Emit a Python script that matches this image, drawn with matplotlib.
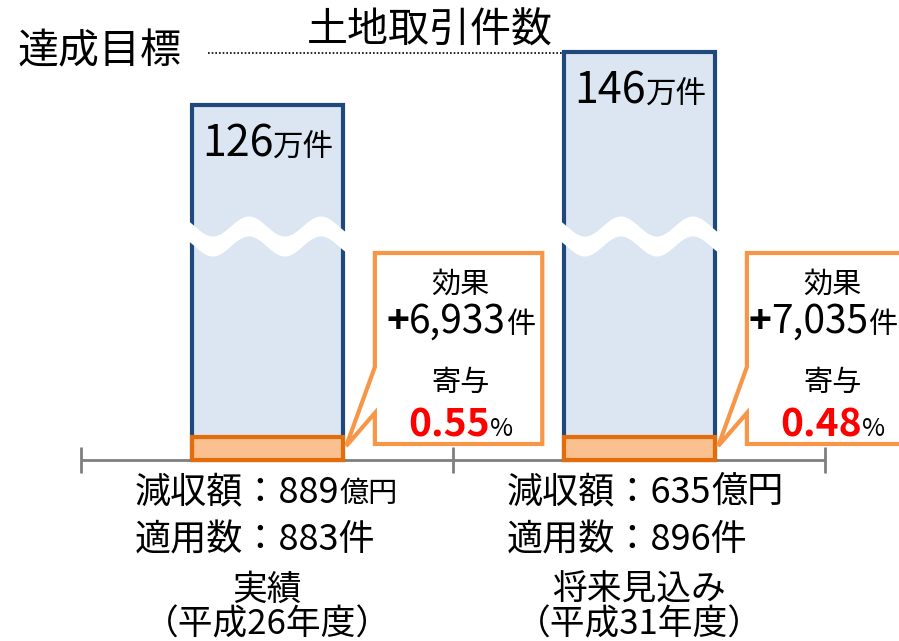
import matplotlib
matplotlib.use("Agg")
import matplotlib.pyplot as plt
import numpy as np
from matplotlib.offsetbox import TextArea, HPacker, AnnotationBbox
from matplotlib.patches import Polygon

plt.rcParams['font.family'] = ['Noto Sans CJK JP', 'DejaVu Sans']

# ---------------- data ----------------
title = "土地取引件数"
target_label = "達成目標"
cat_line1 = ["実績", "将来見込み"]
cat_line2 = ["（平成26年度）", "（平成31年度）"]
transactions = [126, 146]          # 万件
effects = [6933, 7035]             # 件
contrib = [0.55, 0.48]             # %
revenue_loss = [889, 635]          # 億円
applied = [883, 896]               # 件

# ---------------- layout helpers ----------------
W_PX, H_PX = 899, 641
PX0, PXS = 267.0, 372.0           # x: category 0 at px 267, 372 px per category
YTOP, YBOT = 165.6, -76.3


def X(px):
    return (px - PX0) / PXS


def Y(py):
    return YTOP - py * (YTOP - YBOT) / H_PX


BASE = Y(460)
EFFECT_H = 8.5
BAR_W = 151 / PXS

BLUE_FILL = "#DCE6F2"
BLUE_EDGE = "#1F497D"
OR_FILL = "#FAC090"
OR_EDGE = "#E46C0A"
CALL_EDGE = "#F79646"
GREY = "#7F7F7F"

fig = plt.figure(figsize=(W_PX / 100, H_PX / 100), dpi=100)
ax = fig.add_axes([0, 0, 1, 1])
ax.set_xlim(X(0), X(W_PX))
ax.set_ylim(YBOT, YTOP)
ax.axis("off")

xs_cat = np.arange(len(transactions))


def rich(x, y, parts, align=(0.5, 0.5), z=10, sep=0):
    areas = [TextArea(s, textprops=dict(fontsize=fs, color=c, fontweight=w))
             for s, fs, c, w in parts]
    pack = HPacker(children=areas, align="baseline", pad=0, sep=sep)
    ab = AnnotationBbox(pack, (x, y), xycoords="data", box_alignment=align,
                        frameon=False, pad=0, annotation_clip=False)
    ab.set_zorder(z)
    ax.add_artist(ab)
    return ab


# bars
vals = np.array(transactions, dtype=float)
ax.bar(xs_cat, vals - BASE, bottom=BASE, width=BAR_W, color=BLUE_FILL,
       edgecolor=BLUE_EDGE, linewidth=3, zorder=2)
ax.bar(xs_cat, [EFFECT_H] * len(vals), bottom=BASE, width=BAR_W, color=OR_FILL,
       edgecolor=OR_EDGE, linewidth=3, zorder=2.5)

# wavy break
for x in xs_cat:
    left, right = x - BAR_W / 2, x + BAR_W / 2
    xw = np.linspace(left - 0.02, right + 0.02, 400)
    xpx = PX0 + PXS * xw
    lpx = PX0 + PXS * left
    cpy = 236 + 10 * np.cos(2 * np.pi * (xpx - (lpx + 21)) / 72)
    ax.fill_between(xw, Y(cpy + 10), Y(cpy - 10), color="white", lw=0, zorder=3)

# axis line and ticks
ax.hlines(BASE, -0.5, len(vals) - 0.5, color=GREY, lw=2, zorder=1)
ax.vlines(np.arange(len(vals) + 1) - 0.5, BASE - 4.8, BASE + 4.8, color=GREY, lw=2, zorder=1)

# target dotted line
ax.hlines(vals[1] - 0.5, X(208), xs_cat[1] - BAR_W / 2, color="black", lw=1.2,
          linestyles=(0, (1, 1.2)), zorder=1)

# title & target label
ax.text(X(430), Y(31), title, fontsize=29.5, ha="center", va="center")
ax.text(X(17), Y(52), target_label, fontsize=29.5, ha="left", va="center")

# value labels in bars
for x, v in zip(xs_cat, transactions):
    rich(x - BAR_W / 2 + 0.028, v - 15, [(f"{v}", 31, "black", "normal"),
                                        ("万件", 22, "black", "normal")], align=(0, 0.5))

# callouts
number_rows = []
for x, e, c in zip(xs_cat, effects, contrib):
    L, R = x + 0.29, x + 0.74
    T, B = Y(253), Y(444)
    pts = [(L, T), (R, T), (R, B), (L, B), (L, Y(413)), (x + BAR_W / 2 + 0.01, Y(446)), (L, Y(367))]
    ax.add_patch(Polygon(pts, closed=True, facecolor="white", edgecolor=CALL_EDGE,
                         lw=3, joinstyle="miter", zorder=4))
    cx = x + 0.52
    ax.text(cx, Y(285), "効果", fontsize=21, ha="center", va="center", zorder=10)
    number_rows.append(rich(cx, Y(322), [("+", 28, "black", "bold"),
                                         (f"{e:,}", 28, "black", "normal"),
                                         ("件", 21, "black", "normal")]))
    ax.text(cx, Y(383), "寄与", fontsize=21, ha="center", va="center", zorder=10)
    rich(cx, Y(425), [(f"{c:.2f}", 28, "#FF0000", "bold"), ("%", 18, "black", "normal")])

# bottom labels
for i, x in enumerate(xs_cat):
    lx = x - 0.355
    unit_fs = 21 if i == 0 else 26
    rich(lx, Y(492), [(f"減収額：{revenue_loss[i]}", 26, "black", "normal"),
                      ("億円", unit_fs, "black", "normal")], align=(0, 0.5))
    ax.text(lx, Y(541), f"適用数：{applied[i]}件", fontsize=26, ha="left", va="center")
    ax.text(x, Y(590), cat_line1[i], fontsize=25, ha="center", va="center")
    ax.text(x, Y(625), cat_line2[i], fontsize=25, ha="center", va="center")

# keep the callout numbers inside the figure
fig.canvas.draw()
r = fig.canvas.get_renderer()
for ab in number_rows:
    bb = ab.get_window_extent(r)
    over = bb.x1 - (W_PX - 2)
    if over > 0:
        nx = ab.xy[0] - over / PXS
        ab.xy = (nx, ab.xy[1])
        ab.xybox = (nx, ab.xybox[1])

fig.savefig("out.png", dpi=100)
